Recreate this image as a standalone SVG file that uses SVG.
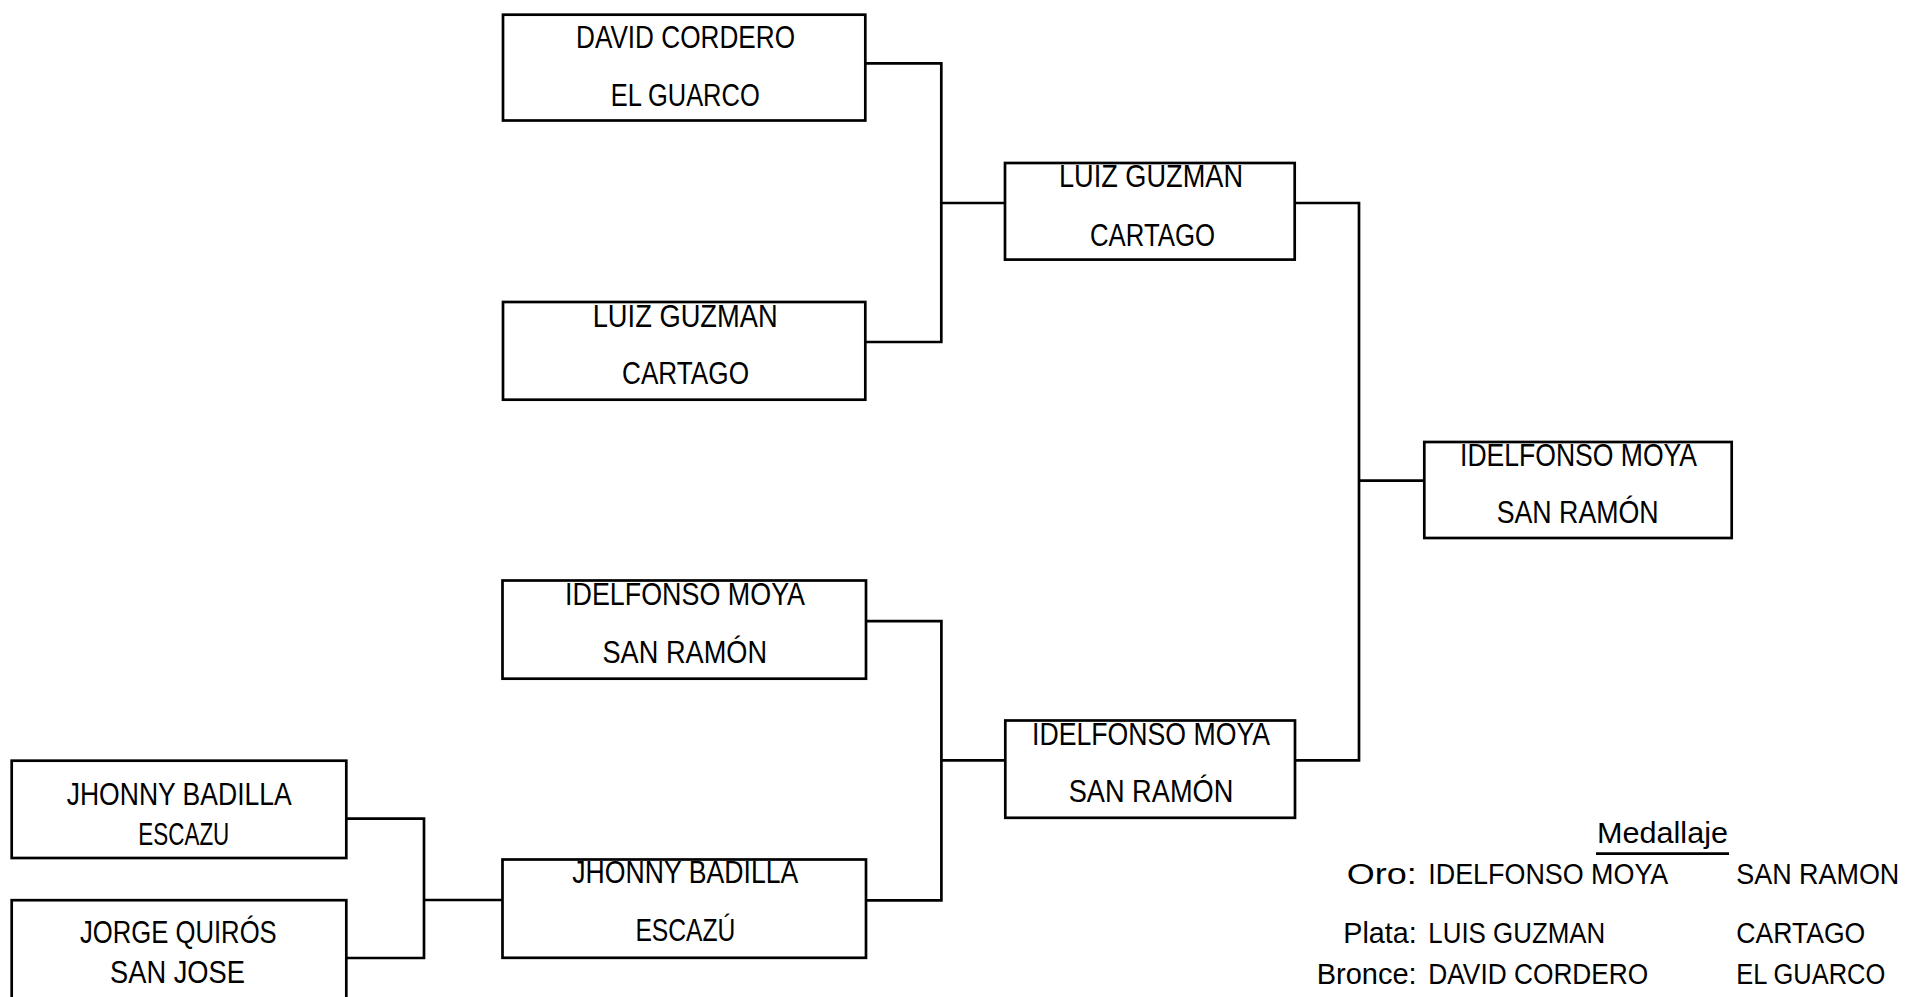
<svg xmlns="http://www.w3.org/2000/svg" width="1907" height="997" viewBox="0 0 1907 997">
<style>
rect.box{fill:#fff;stroke:#000;stroke-width:2.7}
.conn path{fill:none;stroke:#000;stroke-width:2.7}
text{font-family:"Liberation Sans",Arial,sans-serif;fill:#000}
.t{font-size:32px}
.m{font-size:30px}
</style>
<rect width="1907" height="997" fill="#fff"/>
<g class="conn" id="connectors">
<path d="M865.3,63.3 H941.3 V342 H865.3"/>
<path d="M941.3,203 H1005"/>
<path d="M1294.7,203 H1359 V760.3 H1295"/>
<path d="M1359,480.7 H1424.3"/>
<path d="M866,621.2 H941.4 V900.3 H866"/>
<path d="M941.4,760.3 H1005.3"/>
<path d="M346.3,818.7 H424 V958 H346.3"/>
<path d="M424,900 H503"/>
</g>
<g id="n1">
<rect class="box" x="503" y="14.7" width="362.3" height="105.8"/>
<text class="t" x="576" y="48.3" textLength="219" lengthAdjust="spacingAndGlyphs">DAVID CORDERO</text>
<text class="t" x="610.7" y="106" textLength="149" lengthAdjust="spacingAndGlyphs">EL GUARCO</text>
</g>
<g id="n2">
<rect class="box" x="503" y="302" width="362.3" height="97.7"/>
<text class="t" x="592.7" y="326.7" textLength="185" lengthAdjust="spacingAndGlyphs">LUIZ GUZMAN</text>
<text class="t" x="622" y="384" textLength="127" lengthAdjust="spacingAndGlyphs">CARTAGO</text>
</g>
<g id="n3">
<rect class="box" x="1005" y="163" width="289.7" height="96.6"/>
<text class="t" x="1059" y="187" textLength="184" lengthAdjust="spacingAndGlyphs">LUIZ GUZMAN</text>
<text class="t" x="1090" y="246" textLength="125" lengthAdjust="spacingAndGlyphs">CARTAGO</text>
</g>
<g id="n4">
<rect class="box" x="1424.3" y="442" width="307.4" height="96"/>
<text class="t" x="1460" y="465.5" textLength="237" lengthAdjust="spacingAndGlyphs">IDELFONSO MOYA</text>
<text class="t" x="1496.7" y="523" textLength="162" lengthAdjust="spacingAndGlyphs">SAN RAMÓN</text>
</g>
<g id="n5">
<rect class="box" x="502.5" y="580.5" width="363.5" height="98.2"/>
<text class="t" x="565" y="605" textLength="240" lengthAdjust="spacingAndGlyphs">IDELFONSO MOYA</text>
<text class="t" x="602.5" y="663" textLength="164.5" lengthAdjust="spacingAndGlyphs">SAN RAMÓN</text>
</g>
<g id="n6">
<rect class="box" x="1005.3" y="720.5" width="289.7" height="97.3"/>
<text class="t" x="1032" y="745" textLength="238" lengthAdjust="spacingAndGlyphs">IDELFONSO MOYA</text>
<text class="t" x="1068.7" y="802" textLength="164.6" lengthAdjust="spacingAndGlyphs">SAN RAMÓN</text>
</g>
<g id="n7">
<rect class="box" x="502.5" y="859.5" width="363.5" height="98.3"/>
<text class="t" x="572.3" y="883.3" textLength="226" lengthAdjust="spacingAndGlyphs">JHONNY BADILLA</text>
<text class="t" x="635.4" y="941" textLength="100" lengthAdjust="spacingAndGlyphs">ESCAZÚ</text>
</g>
<g id="n8">
<rect class="box" x="11.7" y="760.7" width="334.6" height="97.3"/>
<text class="t" x="66.7" y="805" textLength="225" lengthAdjust="spacingAndGlyphs">JHONNY BADILLA</text>
<text class="t" x="138.3" y="845" textLength="91" lengthAdjust="spacingAndGlyphs">ESCAZU</text>
</g>
<g id="n9">
<rect class="box" x="11.7" y="900.2" width="334.6" height="120"/>
<text class="t" x="80" y="943" textLength="196.7" lengthAdjust="spacingAndGlyphs">JORGE QUIRÓS</text>
<text class="t" x="110" y="983" textLength="135" lengthAdjust="spacingAndGlyphs">SAN JOSE</text>
</g>
<g id="medallero">
<text class="m" x="1597" y="843" textLength="131" lengthAdjust="spacingAndGlyphs">Medallaje</text>
<path d="M1596,853.7 H1729" stroke="#000" stroke-width="2.7" fill="none"/>
<text class="m" x="1346.7" y="884" textLength="70" lengthAdjust="spacingAndGlyphs">Oro:</text>
<text class="m" x="1428.3" y="884" textLength="240" lengthAdjust="spacingAndGlyphs">IDELFONSO MOYA</text>
<text class="m" x="1736.3" y="884" textLength="163" lengthAdjust="spacingAndGlyphs">SAN RAMON</text>
<text class="m" x="1343.3" y="943" textLength="73.4" lengthAdjust="spacingAndGlyphs">Plata:</text>
<text class="m" x="1428.3" y="943" textLength="177" lengthAdjust="spacingAndGlyphs">LUIS GUZMAN</text>
<text class="m" x="1736.3" y="943" textLength="129" lengthAdjust="spacingAndGlyphs">CARTAGO</text>
<text class="m" x="1316.7" y="984" textLength="100" lengthAdjust="spacingAndGlyphs">Bronce:</text>
<text class="m" x="1428.3" y="984" textLength="220" lengthAdjust="spacingAndGlyphs">DAVID CORDERO</text>
<text class="m" x="1736.3" y="984" textLength="149" lengthAdjust="spacingAndGlyphs">EL GUARCO</text>
</g>
</svg>
